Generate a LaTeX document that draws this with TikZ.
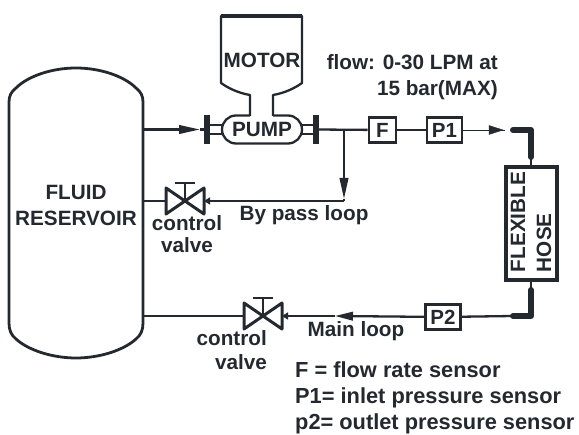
\documentclass[tikz,border=0pt]{standalone}
\usepackage{fontspec}
\setmainfont{Liberation Sans}
\usetikzlibrary{arrows.meta, calc}
\definecolor{ink}{HTML}{23292F}
\tikzset{
  pipe/.style={draw=ink, line width=2.3pt},
  flowpipe/.style={pipe, -{Triangle[length=21pt,width=8.5pt]}},
  valvetip/.style={pipe, -{Triangle[length=6pt,width=7pt]}},
  thickpipe/.style={draw=ink, line width=6pt, line cap=round, line join=round},
  sensor/.style={draw=ink, line width=2.8pt, inner sep=0pt, minimum height=25pt, text=ink, font=\fontsize{20.5}{20}\selectfont\bfseries},
  tag/.style={text=ink, inner sep=0pt, font=\fontsize{20.7}{26}\selectfont\bfseries},
  legendtag/.style={text=ink, inner sep=0pt, font=\fontsize{21.8}{26}\selectfont\bfseries},
}
\newcommand{\ctrlvalve}[1]{%
  \draw[draw=ink, line width=3pt, line join=round] ($(#1)+(-19,-13)$) -- ($(#1)+(19,13)$) -- ($(#1)+(19,-13)$) -- ($(#1)+(-19,13)$) -- cycle;
  \draw[draw=ink, line width=2.5pt] (#1) -- ($(#1)+(0,-18)$);
  \draw[draw=ink, line width=2.5pt] ($(#1)+(-10,-18)$) -- ($(#1)+(10,-18)$);
}
\begin{document}
\begin{tikzpicture}[x=1pt,y=-1pt]
\useasboundingbox (0,0) rectangle (579,435);

\node[minimum width=134pt, align=center, tag] (reservoir) at (76,205) {FLUID\\RESERVOIR};
\node[tag] (pump) at (262,129.5) {PUMP};
\node[tag] (motor) at (262,60) {MOTOR};
\node[sensor, minimum width=27pt] (F) at (382.5,130) {F};
\node[sensor, minimum width=35pt] (P1) at (444.5,130) {P1};
\node[sensor, minimum width=35pt] (P2) at (443,317) {P2};
\node[draw=ink, line width=4pt, minimum width=51pt, minimum height=113pt, inner sep=0pt] (hose) at (531,223.5) {};
\node[tag, rotate=90, align=left] (hosetext) at (531,222) {FLEXIBLE\\HOSE};

% reservoir vessel
\draw[pipe, line width=2.8pt] (9,102) .. controls (9,96) and (11,92) .. (16,88) .. controls (28,76) and (52,68) .. (76,68) .. controls (100,68) and (124,76) .. (136,88) .. controls (141,92) and (143,96) .. (143,102)
  -- (143,323) .. controls (143,330) and (141,335) .. (136,339) .. controls (124,350) and (100,358) .. (76,358) .. controls (52,358) and (28,350) .. (16,339) .. controls (11,335) and (9,330) .. (9,323) -- cycle;

% motor and pump casing
\draw[pipe, line join=round] (250,116) -- (250,95) .. controls (238,93) and (228,88) .. (221,83) -- (221,16) -- (302,16) -- (302,83) .. controls (295,88) and (285,93) .. (273,95) -- (273,116);
\draw[ink, line width=3.8pt] (221,16) -- (302,16);
\draw[pipe, rounded corners=14pt] (250,115.5) -- (222,115.5) -- (222,143.5) -- (302,143.5) -- (302,115.5) -- (273,115.5);

% flanges
\coordinate (flangeL) at (207,129.5);
\coordinate (flangeR) at (316,129.5);
\draw[ink, line width=6pt] (207,115) -- (207,144);
\draw[ink, line width=6pt] (316,115) -- (316,144);
\foreach \y in {125,134} {
  \draw[ink, line width=2pt] (207,\y) -- (223,\y);
  \draw[ink, line width=2pt] (301,\y) -- (316,\y);
}

% valves
\coordinate (valve1) at (185,201);
\coordinate (valve2) at (263,316);
\ctrlvalve{valve1}
\ctrlvalve{valve2}

% suction side
\coordinate (tip1) at (200,129.5);
\draw[flowpipe] (reservoir.east |- flangeL) -- (tip1);
\draw[pipe] (tip1) -- (flangeL);

% delivery side and by pass
\coordinate (tee) at (344,129.5);
\coordinate (tip2) at (344,199);
\coordinate (corner1) at (344,201);
\draw[pipe] (flangeR) -- (F);
\draw[flowpipe] (tee) -- (tip2);
\draw[pipe] (tip2) -- (corner1);
\draw[valvetip] (corner1) -- ($(valve1)+(19,0)$);
\draw[pipe] ($(valve1)+(-19,0)$) -- (reservoir.east |- valve1);
\draw[pipe] (F) -- (P1);

% flexible hose
\coordinate (tip3) at (505,130);
\draw[ink, line width=0.8pt] (P1) -- (tip3);
\draw[ink, fill=ink] (489,125.5) -- (503,130) -- (489,134.5) -- cycle;
\draw[thickpipe] (513,130) -- (531,130) -- (531,157);
\draw[pipe] (531,157) -- (hose.north);
\draw[pipe] (hose.south) -- (531,290);
\draw[thickpipe] (531,290) -- (531,316) -- (513,316);
\coordinate (tip4) at (335,316);
\draw[pipe] (513,316) -- (P2);
\draw[flowpipe, -{Triangle[length=18pt,width=8.5pt]}] (P2) -- (tip4);
\draw[valvetip] (tip4) -- ($(valve2)+(19,0)$);
\draw[pipe] ($(valve2)+(-19,0)$) -- (reservoir.east |- valve2);

% labels
\node[tag, align=center] (valvetext1) at (187,234) {control\\[-4pt]valve};
\node[tag, align=right, anchor=east] (valvetext2) at (267,350) {control\\[-2pt]valve};
\node[tag] (bypass) at (304,215) {By pass loop};
\node[tag] (mainloop) at (356,331) {Main loop};
\node[tag, align=right, anchor=east] (flow) at (498,77) {flow: 0-30 LPM at\\15 bar(MAX)};
\node[legendtag, align=left, anchor=north west] (legend) at (295,362) {F = flow rate sensor\\P1= inlet pressure sensor\\p2= outlet pressure sensor};
\end{tikzpicture}
\end{document}
